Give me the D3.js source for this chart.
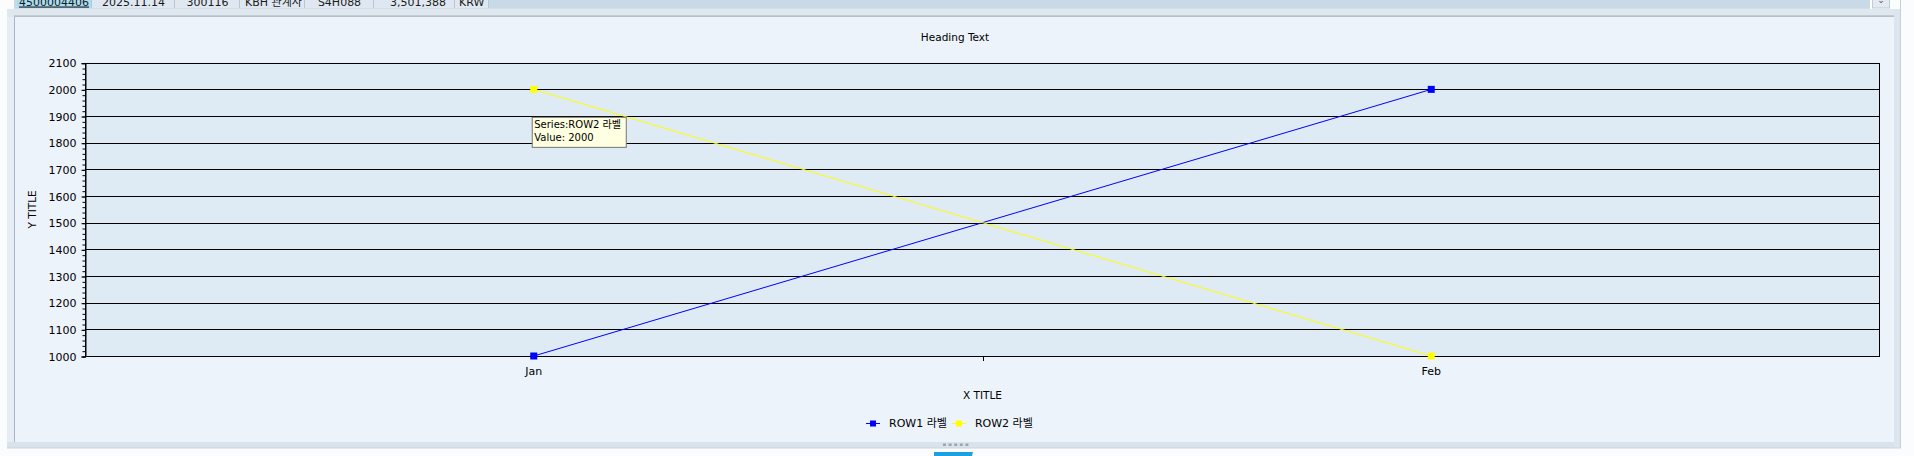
<!DOCTYPE html>
<html>
<head>
<meta charset="utf-8">
<script src="https://cdn.jsdelivr.net/npm/d3@7"></script>
<style>
  html, body { margin: 0; padding: 0; background: #fbfcfd; }
  svg { display: block; }
  text { font-family: "DejaVu Sans", "Noto Sans CJK KR", sans-serif; }
</style>
</head>
<body>
<svg id="chart" width="1914" height="456"></svg>
<script>
// ---------- data ----------
const categories = ["Jan", "Feb"];
const seriesNames = ["ROW1 라벨", "ROW2 라벨"];
const row1Values = [1000, 2000];
const row2Values = [2000, 1000];
const seriesColors = ["#0000ff", "#ffff00"];
const yTickValues = [1000, 1100, 1200, 1300, 1400, 1500, 1600, 1700, 1800, 1900, 2000, 2100];
const chartTitle = "Heading Text";
const xTitle = "X TITLE";
const yTitle = "Y TITLE";
const tooltipLines = ["Series:ROW2 라벨", "Value: 2000"];
const tableCells = ["4500004406", "2025.11.14", "300116", "KBH 관계사", "S4H088", "3,501,388", "KRW"];

const series = [
  { name: seriesNames[0], values: row1Values, color: seriesColors[0] },
  { name: seriesNames[1], values: row2Values, color: seriesColors[1] }
];

const svg = d3.select("#chart");

// ---------- surrounding UI chrome ----------
svg.append("rect").attr("x", 0).attr("y", 0).attr("width", 1914).attr("height", 9).attr("fill", "#fbfcfd");
svg.append("rect").attr("x", 14).attr("y", 0).attr("width", 1856).attr("height", 9).attr("fill", "#c9d9e8");
const cellEdges = [17, 92, 175, 240, 305, 374, 455, 489];
const cellAlign = ["start", "middle", "middle", "start", "middle", "end", "start"];
const cellG = svg.append("g");
cellEdges.slice(0, -1).forEach((x0, i) => {
  const x1 = cellEdges[i + 1];
  cellG.append("rect").attr("x", x0).attr("y", 0).attr("width", x1 - x0).attr("height", 8.5)
    .attr("fill", i === 0 ? "#a9def3" : "#dfe8f1");
  cellG.append("line").attr("x1", x1 - 0.5).attr("x2", x1 - 0.5).attr("y1", 0).attr("y2", 9)
    .attr("stroke", "#b9c6d3");
  let tx = cellAlign[i] === "start" ? x0 + 2 : cellAlign[i] === "end" ? x1 - 9 : (x0 + x1) / 2;
  if (i === 3) tx = x0 + 5;
  if (i === 6) tx = x0 + 4;
  cellG.append("text").attr("x", tx).attr("y", 5.5).attr("text-anchor", cellAlign[i])
    .attr("font-size", 11).attr("fill", "#1a1a1a")
    .attr("text-decoration", i === 0 ? "underline" : null)
    .text(tableCells[i]);
});
cellG.append("rect").attr("x", 14).attr("y", 8).attr("width", 1856).attr("height", 1).attr("fill", "#d3dde7");
svg.append("rect").attr("x", 1872.5).attr("y", -1).attr("width", 17).attr("height", 9).attr("fill", "#e3eaf2").attr("stroke", "#c0ccd8");
svg.append("text").attr("x", 1881).attr("y", 3).attr("text-anchor", "middle").attr("font-size", 9).attr("fill", "#555").text("⌄");
svg.append("rect").attr("x", 7).attr("y", 9).attr("width", 1893).attr("height", 8).attr("fill", "#dfe7ef");
svg.append("rect").attr("x", 14).attr("y", 15.5).attr("width", 1880).attr("height", 1.2).attr("fill", "#a4afba");
svg.append("rect").attr("x", 7).attr("y", 17).attr("width", 7).attr("height", 431).attr("fill", "#e6edf4");
svg.append("rect").attr("x", 14).attr("y", 17).attr("width", 1).attr("height", 425).attr("fill", "#a9b5c4");
svg.append("rect").attr("x", 15).attr("y", 17).attr("width", 1879).attr("height", 425).attr("fill", "#ecf3fb");
svg.append("rect").attr("x", 1894).attr("y", 9).attr("width", 6).attr("height", 439).attr("fill", "#dde6ef");
svg.append("rect").attr("x", 1900).attr("y", 0).attr("width", 1).attr("height", 448).attr("fill", "#c5d0dc");
svg.append("rect").attr("x", 7).attr("y", 442).attr("width", 1887).attr("height", 6).attr("fill", "#d9e3eb");
svg.append("rect").attr("x", 7).attr("y", 447.5).attr("width", 1894).attr("height", 1).attr("fill", "#c9d3dd");
d3.range(5).forEach(i => {
  svg.append("rect").attr("x", 943 + i * 5.6).attr("y", 443.5).attr("width", 3).attr("height", 2.5).attr("fill", "#9aa5b0");
});
svg.append("path").attr("d", "M934,452 L973,452 L972,456 L934,456 Z").attr("fill", "#1ba1e2");

// ---------- chart ----------
const plot = { left: 85, right: 1880, top: 62.7, bottom: 356 };

const x = d3.scaleBand().domain(categories).range([plot.left, plot.right]).paddingInner(0).paddingOuter(0);
const y = d3.scaleLinear().domain([1000, 2100]).range([plot.bottom, plot.top]);
const cx = c => x(c) + x.bandwidth() / 2;

svg.append("rect").attr("x", plot.left).attr("y", plot.top)
  .attr("width", plot.right - plot.left).attr("height", plot.bottom - plot.top)
  .attr("fill", "#deeaf4");

svg.append("g").selectAll("line").data(yTickValues).join("line")
  .attr("x1", plot.left).attr("x2", plot.right)
  .attr("y1", d => Math.round(y(d)) + 0.5).attr("y2", d => Math.round(y(d)) + 0.5)
  .attr("stroke", "#000").attr("stroke-width", 1);

svg.append("rect").attr("x", plot.left + 0.5).attr("y", Math.round(plot.top) + 0.5)
  .attr("width", plot.right - plot.left - 1).attr("height", Math.round(plot.bottom) - Math.round(plot.top))
  .attr("fill", "none").attr("stroke", "#000");

const yMinor = d3.axisLeft(y).tickValues(d3.range(1000, 2101, 20)).tickSize(3).tickFormat("");
const gMinor = svg.append("g").attr("transform", `translate(${plot.left + 0.5},0.5)`).call(yMinor);
gMinor.select(".domain").remove();
gMinor.selectAll("line").attr("stroke", "#000");

const yAxis = d3.axisLeft(y).tickValues(yTickValues).tickSize(4).tickPadding(5).tickFormat(d3.format("d"));
const gy = svg.append("g").attr("transform", `translate(${plot.left + 0.5},0.5)`).call(yAxis);
gy.select(".domain").attr("stroke", "#000");
gy.selectAll("line").attr("stroke", "#000");
gy.selectAll("text").attr("font-size", 11).attr("fill", "#000")
  .attr("font-family", "'DejaVu Sans', sans-serif");

const boundaries = categories.slice(1).map(c => x(c));
svg.append("g").selectAll("line").data(boundaries).join("line")
  .attr("x1", d => Math.round(d) + 0.5).attr("x2", d => Math.round(d) + 0.5)
  .attr("y1", Math.round(plot.bottom)).attr("y2", Math.round(plot.bottom) + 5)
  .attr("stroke", "#000");
svg.append("g").selectAll("text").data(categories).join("text")
  .attr("x", d => cx(d)).attr("y", plot.bottom + 19)
  .attr("text-anchor", "middle").attr("font-size", 11).attr("fill", "#000")
  .text(d => d);

// titles
svg.append("text").attr("x", 955).attr("y", 40.5)
  .attr("text-anchor", "middle").attr("font-size", 10.5).attr("fill", "#000").text(chartTitle);
svg.append("text").attr("x", (plot.left + plot.right) / 2).attr("y", 399)
  .attr("text-anchor", "middle").attr("font-size", 10.5).attr("fill", "#000").text(xTitle);
svg.append("text").attr("transform", `translate(36,${(plot.top + plot.bottom) / 2}) rotate(-90)`)
  .attr("text-anchor", "middle").attr("font-size", 10.5).attr("fill", "#000").text(yTitle);

const line = d3.line().x((d, i) => cx(categories[i])).y(d => y(d));
series.forEach(s => {
  svg.append("path").datum(s.values).attr("d", line)
    .attr("fill", "none").attr("stroke", s.color).attr("stroke-width", 1);
});
series.forEach(s => {
  svg.append("g").selectAll("rect").data(s.values).join("rect")
    .attr("x", (d, i) => cx(categories[i]) - 3.5).attr("y", d => y(d) - 3.5)
    .attr("width", 7).attr("height", 7).attr("fill", s.color);
});

// legend
const legendY = 423;
const legend = svg.append("g");
let lx = 866;
series.forEach((s, i) => {
  const g = legend.append("g").attr("transform", `translate(${lx},${legendY})`);
  g.append("line").attr("x1", 0).attr("x2", 14).attr("y1", 0.5).attr("y2", 0.5).attr("stroke", s.color);
  g.append("rect").attr("x", 4).attr("y", -2.5).attr("width", 6).attr("height", 6).attr("fill", s.color);
  const t = g.append("text").attr("x", 23).attr("y", 4).attr("font-size", 11).attr("fill", "#000").text(s.name);
  lx += 23 + t.node().getComputedTextLength() + 5;
});

// tooltip attached to the ROW2 / Jan point
const tipX = cx(categories[0]) - 2;
const tipY = y(row2Values[0]) + 27.5;
const tip = svg.append("g").attr("transform", `translate(${tipX},${tipY})`);
const tipRect = tip.append("rect").attr("x", 0.5).attr("y", 0.5).attr("height", 30)
  .attr("fill", "#ffffe1").attr("stroke", "#767676");
let maxW = 0;
tooltipLines.forEach((l, i) => {
  const t = tip.append("text").attr("x", 2.5).attr("y", 11 + i * 13.6)
    .attr("font-size", 10).attr("fill", "#000").text(l);
  maxW = Math.max(maxW, t.node().getComputedTextLength());
});
tipRect.attr("width", Math.max(94, maxW + 5));
</script>
</body>
</html>
